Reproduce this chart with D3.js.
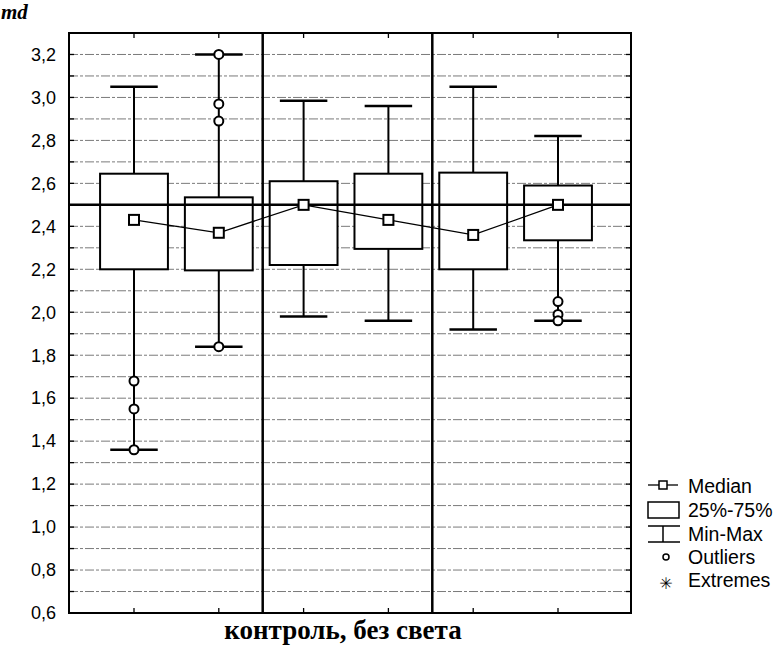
<!DOCTYPE html>
<html><head><meta charset="utf-8">
<script src="https://cdn.jsdelivr.net/npm/d3@7"></script>
<style>body{margin:0;background:#fff}svg{display:block}</style>
</head><body>
<svg id="chart" width="775" height="646"></svg>
<script>
// ---- data ----
const categories = ["A1","A2","B1","B2","C1","C2"];
const groups = [["A1","A2"],["B1","B2"],["C1","C2"]];
const mins    = [1.36, 1.84, 1.98, 1.96, 1.92, 1.96];
const q1s     = [2.20, 2.195, 2.22, 2.295, 2.20, 2.335];
const medians = [2.43, 2.37, 2.50, 2.43, 2.36, 2.50];
const q3s     = [2.645, 2.535, 2.61, 2.645, 2.65, 2.59];
const maxs    = [3.05, 3.20, 2.985, 2.96, 3.05, 2.82];
const outliers = [[1.68,1.55,1.36],[3.20,2.97,2.89,1.84],[],[],[],[2.05,1.99,1.96]];
const refValue = 2.5;
const yTicks = [0.6,0.8,1.0,1.2,1.4,1.6,1.8,2.0,2.2,2.4,2.6,2.8,3.0,3.2];
const yGrid = d3.range(7,33).map(v=>v/10);
const yLabel = "md";
const xLabel = "контроль, без света";
const legendItems = ["Median","25%-75%","Min-Max","Outliers","Extremes"];

// ---- layout ----
const svg = d3.select("#chart");
const L = 69, R = 631, T = 33, B = 613;
const y = d3.scaleLinear().domain([0.6, 3.3]).range([B, T]);
const x = d3.scalePoint().domain(categories).range([134, 558]);
const step = x.step();
const boxW = step * 0.8, capW = step * 0.56;
const fmt = v => d3.format(".1f")(v).replace(".", ",");

// grid
svg.append("g").selectAll("line").data(yGrid).join("line")
  .attr("x1", L).attr("x2", R).attr("y1", d=>y(d)).attr("y2", d=>y(d))
  .attr("stroke", "#7a7a7a").attr("stroke-width", 1).attr("stroke-dasharray", "9,2,3,2");

// side ticks
const tk = svg.append("g").attr("stroke","#000").attr("stroke-width",1.3);
yGrid.forEach(v=>{
  tk.append("line").attr("x1",L).attr("x2",L+5).attr("y1",y(v)).attr("y2",y(v));
  tk.append("line").attr("x1",R-5).attr("x2",R).attr("y1",y(v)).attr("y2",y(v));
});
categories.forEach(c=>{
  tk.append("line").attr("x1",x(c)).attr("x2",x(c)).attr("y1",T).attr("y2",T+5);
  tk.append("line").attr("x1",x(c)).attr("x2",x(c)).attr("y1",B).attr("y2",B-5);
});

// group separators
for (let i = 0; i < groups.length-1; i++) {
  const sx = (x(groups[i][1]) + x(groups[i+1][0]))/2 + 1.5;
  svg.append("line").attr("x1",sx).attr("x2",sx).attr("y1",T).attr("y2",B)
    .attr("stroke","#000").attr("stroke-width",2.5);
}

// y labels
svg.append("g").selectAll("text").data(yTicks).join("text")
  .attr("x", 56).attr("y", d=>y(d)).attr("dy","0.35em").attr("text-anchor","end")
  .attr("font-family","Liberation Sans, Arial, sans-serif").attr("font-size",18)
  .text(fmt);

// boxes
const bx = svg.append("g");
categories.forEach((c,i)=>{
  const cx = x(c);
  bx.append("line").attr("x1",cx).attr("x2",cx).attr("y1",y(maxs[i])).attr("y2",y(q3s[i])).attr("stroke","#000").attr("stroke-width",2);
  bx.append("line").attr("x1",cx).attr("x2",cx).attr("y1",y(q1s[i])).attr("y2",y(mins[i])).attr("stroke","#000").attr("stroke-width",2);
  bx.append("line").attr("x1",cx-capW/2).attr("x2",cx+capW/2).attr("y1",y(maxs[i])).attr("y2",y(maxs[i])).attr("stroke","#000").attr("stroke-width",2.5);
  bx.append("line").attr("x1",cx-capW/2).attr("x2",cx+capW/2).attr("y1",y(mins[i])).attr("y2",y(mins[i])).attr("stroke","#000").attr("stroke-width",2.5);
  bx.append("rect").attr("x",cx-boxW/2).attr("width",boxW)
    .attr("y",y(q3s[i])).attr("height",y(q1s[i])-y(q3s[i]))
    .attr("fill","#fff").attr("stroke","#000").attr("stroke-width",2);
});

// reference line
svg.append("line").attr("x1",L).attr("x2",R).attr("y1",y(refValue)).attr("y2",y(refValue))
  .attr("stroke","#000").attr("stroke-width",2.5);

// median line
svg.append("path")
  .attr("d", d3.line().x((d,i)=>x(categories[i])).y(d=>y(d))(medians))
  .attr("fill","none").attr("stroke","#000").attr("stroke-width",1.3);

// median squares
svg.append("g").selectAll("rect").data(medians).join("rect")
  .attr("x",(d,i)=>x(categories[i])-5).attr("y",d=>y(d)-5).attr("width",10).attr("height",10)
  .attr("fill","#fff").attr("stroke","#000").attr("stroke-width",2);

// outliers
categories.forEach((c,i)=>{
  svg.append("g").selectAll("circle").data(outliers[i]).join("circle")
    .attr("cx",x(c)).attr("cy",d=>y(d)).attr("r",4.5)
    .attr("fill","#fff").attr("stroke","#000").attr("stroke-width",2);
});

// frame
svg.append("rect").attr("x",L).attr("y",T).attr("width",R-L).attr("height",B-T)
  .attr("fill","none").attr("stroke","#000").attr("stroke-width",2);

// axis titles
svg.append("text").attr("x",1).attr("y",19)
  .attr("font-family","Liberation Serif, Times New Roman, serif").attr("font-weight","bold")
  .attr("font-style","italic").attr("font-size",21).text(yLabel);
svg.append("text").attr("x",343).attr("y",639).attr("text-anchor","middle")
  .attr("font-family","Liberation Serif, Times New Roman, serif").attr("font-weight","bold")
  .attr("font-size",27).text(xLabel);

// legend
const lg = svg.append("g").attr("stroke","#000").attr("fill","none");
const lx = 663, tx = 688;
const lys = [485, 509, 533, 557, 580];
lg.append("line").attr("x1",lx-15).attr("x2",lx+15).attr("y1",lys[0]).attr("y2",lys[0]).attr("stroke-width",1.3);
lg.append("rect").attr("x",lx-4).attr("y",lys[0]-4).attr("width",8).attr("height",8).attr("fill","#fff").attr("stroke-width",1.5);
lg.append("rect").attr("x",lx-15).attr("y",502).attr("width",31).attr("height",16).attr("stroke-width",1.5);
lg.append("line").attr("x1",lx-15).attr("x2",lx+17).attr("y1",526).attr("y2",526).attr("stroke-width",1.5);
lg.append("line").attr("x1",lx).attr("x2",lx).attr("y1",526).attr("y2",542).attr("stroke-width",1.5);
lg.append("line").attr("x1",lx-15).attr("x2",lx+17).attr("y1",542).attr("y2",542).attr("stroke-width",1.5);
lg.append("circle").attr("cx",lx+3).attr("cy",lys[3]).attr("r",3).attr("stroke-width",1.5);
svg.append("text").attr("x",lx+3).attr("y",lys[4]).attr("dy","0.55em").attr("text-anchor","middle")
  .attr("font-family","DejaVu Sans, sans-serif").attr("font-size",16).text("\u2733");
svg.append("g").selectAll("text").data(legendItems).join("text")
  .attr("x",tx).attr("y",(d,i)=>[493,517,541,564,587][i])
  .attr("font-family","Liberation Sans, Arial, sans-serif").attr("font-size",19.5)
  .text(d=>d);
</script>
</body></html>
